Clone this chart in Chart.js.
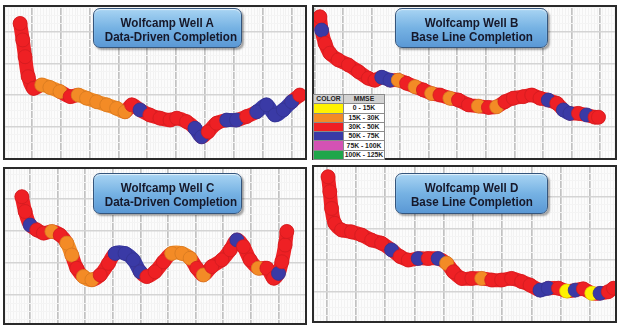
<!DOCTYPE html>
<html><head><meta charset="utf-8">
<script src="https://cdn.jsdelivr.net/npm/chart.js@4"></script>
<style>
html,body{margin:0;padding:0;background:#fff;}
body{width:620px;height:330px;position:relative;overflow:hidden;font-family:"Liberation Sans",Arial,sans-serif;}
.panel{position:absolute;border:2px solid #2a2a2a;background:#fcfcfc;box-sizing:border-box;}
.panel canvas{display:block;}
.title{position:absolute;box-sizing:border-box;border:1px solid #34557c;border-radius:7px;
 background:linear-gradient(#a8d4f3,#76b2e3 50%,#5a98d5);
 box-shadow:2px 2px 2px rgba(0,0,0,0.35), inset 0 1px 1px rgba(255,255,255,0.7);
 text-align:center;color:#16182a;font-weight:bold;font-size:13.5px;line-height:13.5px;padding-top:7px;z-index:3;}
.title div span{display:inline-block;transform:scaleX(0.86);white-space:nowrap;}
table.legend{position:absolute;left:313px;top:94px;border-collapse:collapse;z-index:3;background:#fff;
 font-weight:bold;font-size:6.8px;color:#222;text-align:center;}
table.legend td,table.legend th{border:1px solid #8a8a8a;height:8.3px;padding:0;line-height:8px;}
table.legend th{background:#d2d2d2;font-weight:bold;}
</style></head>
<body>
<div class="panel" style="left:3px;top:5px;width:304px;height:155px;"><canvas id="cA" width="300" height="151"></canvas></div>
<div class="panel" style="left:312px;top:5px;width:305px;height:155px;"><canvas id="cB" width="301" height="151"></canvas></div>
<div class="panel" style="left:3px;top:167px;width:304px;height:158px;"><canvas id="cC" width="300" height="154"></canvas></div>
<div class="panel" style="left:312px;top:165px;width:305px;height:158px;"><canvas id="cD" width="301" height="154"></canvas></div>

<div class="title" style="left:93px;top:8px;width:149px;height:40px;"><div><span>Wolfcamp Well A</span></div><div><span>Data-Driven Completion</span></div></div>
<div class="title" style="left:395px;top:8px;width:153px;height:40px;"><div><span>Wolfcamp Well B</span></div><div><span>Base Line Completion</span></div></div>
<div class="title" style="left:93px;top:173px;width:149px;height:41px;"><div><span>Wolfcamp Well C</span></div><div><span>Data-Driven Completion</span></div></div>
<div class="title" style="left:395px;top:173px;width:153px;height:41px;"><div><span>Wolfcamp Well D</span></div><div><span>Base Line Completion</span></div></div>

<table class="legend" id="legend"></table>

<script>
// ---- Legend (MMSE classes) ----
const legendHeader = ["COLOR", "MMSE"];
const mmseLabels = ["0 - 15K", "15K - 30K", "30K - 50K", "50K - 75K", "75K - 100K", "100K - 125K"];
const mmseColors = ["#fff200", "#f38b26", "#ee2024", "#3a3aa6", "#d452b4", "#1fa64a"];

// ---- Well A ----
const wellA_x = [6.0,6.9,7.7,8.8,10.6,13.5,16.3,19.8,23.3,26.1,29.0,32.5,36.0,39.4,42.3,44.6,47.5,50.9,54.4,57.9,60.2,63.6,66.5,68.8,71.1,74.0,77.5,80.9,84.4,87.9,91.3,94.2,97.1,100.0,102.8];
const wellA_y = [42.6,37.4,32.1,25.8,22.1,23.2,22.4,21.1,19.5,20.0,19.0,17.9,16.9,15.8,14.7,16.9,15.3,13.7,12.7,12.1,12.7,11.6,9.5,6.8,8.4,11.1,12.1,12.1,13.2,14.7,16.9,13.7,15.3,17.9,20.0];
const wellA_cat = [2,2,2,2,2,1,1,1,2,1,1,1,1,1,1,2,3,2,2,2,2,2,3,3,2,2,3,3,2,3,3,3,3,3,2];

// ---- Well B ----
const wellB_x = [1.8,2.4,3.6,5.3,8.2,11.8,15.3,18.8,21.1,23.5,26.4,29.3,32.2,35.2,38.1,41.0,43.9,47.4,50.4,53.9,57.4,60.9,63.8,66.7,69.6,73.2,76.1,79.0,81.9,84.9,87.2,89.5,92.5,95.4,98.3,99.5];
const wellB_y = [44.7,40.5,36.3,33.2,31.1,29.5,27.4,25.3,24.7,25.6,24.7,24.7,23.7,22.6,21.6,20.5,20.0,19.0,18.4,16.9,16.5,16.1,16.3,17.9,19.0,19.5,20.0,19.0,18.4,17.4,15.3,14.2,14.2,13.7,13.0,13.0];
const wellB_cat = [2,3,2,2,2,2,2,2,2,3,3,1,2,1,2,1,2,1,2,2,1,2,1,2,2,2,2,2,3,2,3,3,2,3,2,2];

// ---- Well C ----
const wellC_x = [7.0,8.2,10.0,12.4,14.8,17.9,20.9,23.3,25.1,26.9,29.3,32.4,35.4,38.4,40.8,44.4,47.4,49.9,52.3,55.3,58.3,61.3,65.0,68.0,70.4,72.8,75.8,79.5,82.5,84.9,87.3,89.7,92.7,95.8,98.2,100.0,101.2,102.4,103.0];
const wellC_y = [40.5,35.9,31.7,30.2,29.2,29.7,28.6,26.1,22.4,18.3,15.7,14.7,16.2,19.8,22.9,22.9,20.9,17.2,15.7,17.2,20.3,22.9,22.9,21.4,18.3,16.2,18.8,20.9,24.0,27.1,25.0,20.9,18.3,18.3,15.2,16.7,20.3,25.5,29.7];
const wellC_cat = [2,2,3,2,2,1,2,1,1,2,1,1,2,2,3,3,3,3,2,2,2,1,1,1,2,1,2,2,2,3,2,2,1,2,2,3,2,2,2];

// ---- Well D ----
const wellD_x = [10.5,11.1,11.7,12.8,15.1,18.5,22.0,25.4,28.8,32.2,35.1,37.9,41.3,44.7,48.1,51.0,53.3,56.1,59.6,63.0,66.4,69.8,73.2,76.6,79.5,82.9,85.7,89.2,92.0,94.9,97.7,100.6,103.4,106.2,108.0];
const wellD_y = [46.3,41.6,36.3,31.6,29.5,28.9,27.9,26.3,25.3,23.2,21.1,20.0,20.5,20.5,20.5,19.0,16.3,14.2,14.2,14.2,13.7,13.7,14.2,13.2,12.1,10.5,11.1,11.1,10.2,10.5,10.9,9.5,9.5,10.0,11.1];
const wellD_cat = [2,2,2,2,2,2,2,2,2,3,2,2,3,2,3,1,2,2,2,1,2,2,2,2,2,3,3,2,0,3,2,0,3,2,2];

// ---- legend table ----
(function(){
  const t = document.getElementById('legend');
  let h = '<tr><th style="width:29px">' + legendHeader[0] + '</th><th style="width:40px">' + legendHeader[1] + '</th></tr>';
  mmseLabels.forEach((l, i) => { h += '<tr><td style="background:' + mmseColors[i] + '"></td><td>' + l + '</td></tr>'; });
  t.innerHTML = h;
})();

function shade(hex, f) {
  const n = parseInt(hex.slice(1), 16);
  const r = Math.round(((n >> 16) & 255) * f), g = Math.round(((n >> 8) & 255) * f), b = Math.round((n & 255) * f);
  return 'rgb(' + r + ',' + g + ',' + b + ')';
}
function gridTicks(min, max, step) {
  const t = [];
  for (let v = Math.ceil(min / step) * step; v <= max + 1e-9; v += step) t.push({ value: Math.round(v * 100) / 100 });
  return t;
}
function makeChart(id, xs, ys, cats, xr, yr) {
  const pts = xs.map((x, i) => ({ x: x, y: ys[i] }));
  const fill = cats.map(c => mmseColors[c]);
  const edge = cats.map(c => shade(mmseColors[c], 0.88));
  new Chart(document.getElementById(id), {
    type: 'line',
    data: { datasets: [{
      data: pts,
      borderWidth: 14,
      borderCapStyle: 'round',
      borderJoinStyle: 'round',
      tension: 0.35,
      fill: false,
      borderColor: mmseColors[2],
      segment: { borderColor: ctx => {
        const a = cats[ctx.p0DataIndex], b = cats[ctx.p1DataIndex];
        return a === b ? mmseColors[a] : mmseColors[2];
      } },
      pointRadius: 7,
      pointBorderWidth: 0.8,
      pointBackgroundColor: fill,
      pointBorderColor: edge,
      clip: false
    }] },
    options: {
      responsive: false, animation: false, events: [],
      layout: { padding: 0, autoPadding: false },
      plugins: { legend: { display: false }, tooltip: { enabled: false }, title: { display: false } },
      scales: {
        x: {
          type: 'linear', min: xr[0], max: xr[1],
          ticks: { display: false }, border: { display: false },
          grid: { drawTicks: false,
            color: c => (Math.round(c.tick.value) % 10 === 0) ? '#c2c2c2' : '#f2f2f2',
            lineWidth: c => (Math.round(c.tick.value) % 10 === 0) ? 1.7 : 1 },
          afterBuildTicks: s => { s.ticks = gridTicks(s.min, s.max, 1); }
        },
        y: {
          type: 'linear', min: yr[0], max: yr[1],
          ticks: { display: false }, border: { display: false },
          grid: { drawTicks: false,
            color: c => (Math.round(c.tick.value) % 10 === 0) ? '#d4d4d4' : '#f4f4f4',
            lineWidth: c => (Math.round(c.tick.value) % 10 === 0) ? 1.4 : 1 },
          afterBuildTicks: s => { s.ticks = gridTicks(s.min, s.max, 2.5); }
        }
      }
    }
  });
}
makeChart('cA', wellA_x, wellA_y, wellA_cat, [0.76, 104.6], [0.12, 47.8]);
makeChart('cB', wellB_x, wellB_y, wellB_cat, [-0.28, 105.3], [0.12, 47.8]);
makeChart('cC', wellC_x, wellC_y, wellC_cat, [0.9, 109.6], [1.3, 49.1]);
makeChart('cD', wellD_x, wellD_y, wellD_cat, [5.7, 108.5], [0.75, 49.4]);
</script>
</body></html>
